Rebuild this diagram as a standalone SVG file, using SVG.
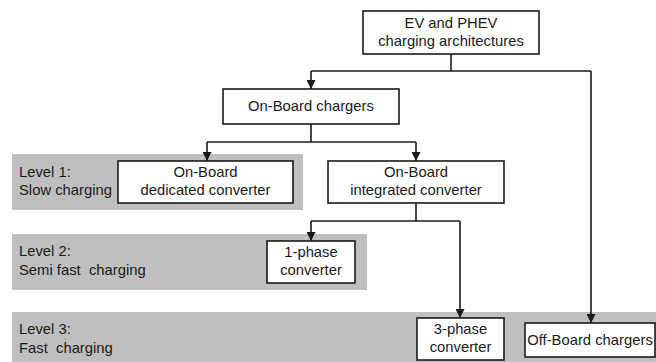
<svg xmlns="http://www.w3.org/2000/svg" width="656" height="362" viewBox="0 0 656 362">
<style>
.band{fill:#bfbfbf;stroke:none}
.box{fill:#fff;stroke:#1a1a1a;stroke-width:1.6}
.t{font-family:"Liberation Sans",Arial,sans-serif;font-size:14.8px;fill:#1a1a1a;white-space:pre}
.c{text-anchor:middle}
.ln{fill:none;stroke:#1a1a1a;stroke-width:1.6}
</style>
<defs>
<marker id="arr" markerUnits="userSpaceOnUse" markerWidth="9" markerHeight="9" refX="9" refY="4.5" orient="auto" viewBox="0 0 9 9">
<path d="M0,0 L9,4.5 L0,9 Z" fill="#1a1a1a"/>
</marker>
</defs>
<g id="bands">
<rect class="band" x="12" y="154" width="291" height="56"/>
<rect class="band" x="12" y="234" width="355" height="56"/>
<rect class="band" x="12" y="312" width="644" height="50"/>
<text class="t" x="19" y="177">Level 1:</text>
<text class="t" x="19" y="195">Slow charging</text>
<text class="t" x="19" y="256">Level 2:</text>
<text class="t" x="19" y="275" xml:space="preserve">Semi fast  charging</text>
<text class="t" x="19" y="334">Level 3:</text>
<text class="t" x="19" y="353" xml:space="preserve">Fast  charging</text>
</g>
<g id="connectors">
<polyline class="ln" points="451,54 451,71"/>
<polyline class="ln" points="311,71 591,71"/>
<polyline class="ln" points="311,71 311,89" marker-end="url(#arr)"/>
<polyline class="ln" points="591,71 591,323" marker-end="url(#arr)"/>
<polyline class="ln" points="311,124 311,142"/>
<polyline class="ln" points="207,142 416,142"/>
<polyline class="ln" points="207,142 207,161" marker-end="url(#arr)"/>
<polyline class="ln" points="416,142 416,161" marker-end="url(#arr)"/>
<polyline class="ln" points="416,203 416,221"/>
<polyline class="ln" points="311,221 460,221"/>
<polyline class="ln" points="311,221 311,241" marker-end="url(#arr)"/>
<polyline class="ln" points="460,221 460,318" marker-end="url(#arr)"/>
</g>
<g id="ev-phev">
<rect class="box" x="363" y="11" width="176" height="43"/>
<text class="t c" x="451" y="28">EV and PHEV</text>
<text class="t c" x="451" y="46">charging architectures</text>
</g>
<g id="onboard-chargers">
<rect class="box" x="223" y="89" width="176" height="35"/>
<text class="t c" x="311" y="111">On-Board chargers</text>
</g>
<g id="dedicated">
<rect class="box" x="118" y="161" width="175" height="42"/>
<text class="t c" x="205.5" y="177">On-Board</text>
<text class="t c" x="205.5" y="195">dedicated converter</text>
</g>
<g id="integrated">
<rect class="box" x="328" y="161" width="176" height="42"/>
<text class="t c" x="416" y="177">On-Board</text>
<text class="t c" x="416" y="195">integrated converter</text>
</g>
<g id="one-phase">
<rect class="box" x="267" y="241" width="88" height="42"/>
<text class="t c" x="311" y="257">1-phase</text>
<text class="t c" x="311" y="275">converter</text>
</g>
<g id="three-phase">
<rect class="box" x="417" y="318" width="87" height="42"/>
<text class="t c" x="460.5" y="334">3-phase</text>
<text class="t c" x="460.5" y="352">converter</text>
</g>
<g id="offboard">
<rect class="box" x="525" y="323" width="130" height="34"/>
<text class="t c" x="590" y="345">Off-Board chargers</text>
</g>
</svg>
